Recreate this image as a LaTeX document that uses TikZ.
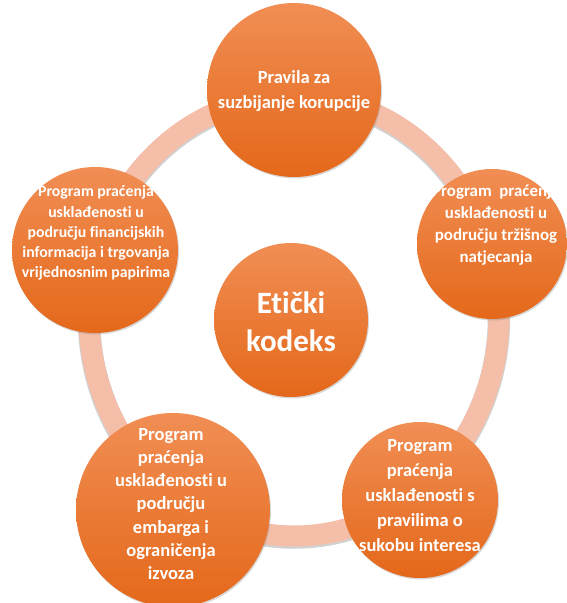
\documentclass[tikz,border=0pt]{standalone}
\usepackage{fontspec}
\setmainfont{Carlito}[Ligatures={NoCommon}]
\usetikzlibrary{shadows}
\definecolor{orTop}{RGB}{241,142,84}
\definecolor{orBot}{RGB}{228,104,26}
\definecolor{ringC}{RGB}{245,190,168}
\tikzset{
  bub/.style={circle, inner sep=0pt, minimum size=#1, top color=orTop, bottom color=orBot,
    drop shadow={opacity=0.3, shadow xshift=1pt, shadow yshift=-1.5pt}},
  lbl/.style={text=white, align=center, inner sep=0pt},
}
\begin{document}
\begin{tikzpicture}[x=1pt, y=-1pt]
  \fill[white] (0,0) rectangle (567,603);
  \useasboundingbox (0,0) rectangle (567,603);
  % ring
  \draw[black!45, opacity=0.4, line width=22.5pt] (294,317.5) ellipse [x radius=205, y radius=220];
  \draw[ringC, line width=21pt] (294,316) ellipse [x radius=205, y radius=220];
  % circles
  \node[bub=174pt] (c1) at (294,90) {};
  \node[bub=166pt] (c2) at (95,250) {};
  \node[bub=150pt] (c3) at (492,244) {};
  \node[bub=194pt] (c4) at (173,510) {};
  \node[bub=156pt] (c5) at (420,500) {};
  \node[bub=154pt] (c0) at (291,320) {};
  % labels
  \node[lbl, font=\bfseries\fontsize{18.5}{25}\selectfont] (t1) at (294,91) {Pravila za\\suzbijanje korupcije};
  \node[lbl, font=\bfseries\fontsize{15.8}{20.2}\selectfont] (t2) at (96,233) {Program praćenja\\usklađenosti u\\području financijskih\\informacija i trgovanja\\vrijednosnim papirima};
  \node[lbl, font=\bfseries\fontsize{16.9}{22.3}\selectfont] (t3) at (496,225) {Program\ \ praćenja\\usklađenosti u\\području tržišnog\\natjecanja};
  \node[lbl, font=\bfseries\fontsize{18.5}{23.2}\selectfont] (t4) at (171,504) {Program\\praćenja\\usklađenosti u\\području\\embarga i\\ograničenja\\izvoza};
  \node[lbl, font=\bfseries\fontsize{18.5}{25}\selectfont] (t5) at (420,496) {Program\\praćenja\\usklađenosti s\\pravilima o\\sukobu interesa};
  \node[lbl, font=\bfseries\fontsize{31}{38}\selectfont] (t0) at (291,322) {Etički\\kodeks};
\end{tikzpicture}
\end{document}
